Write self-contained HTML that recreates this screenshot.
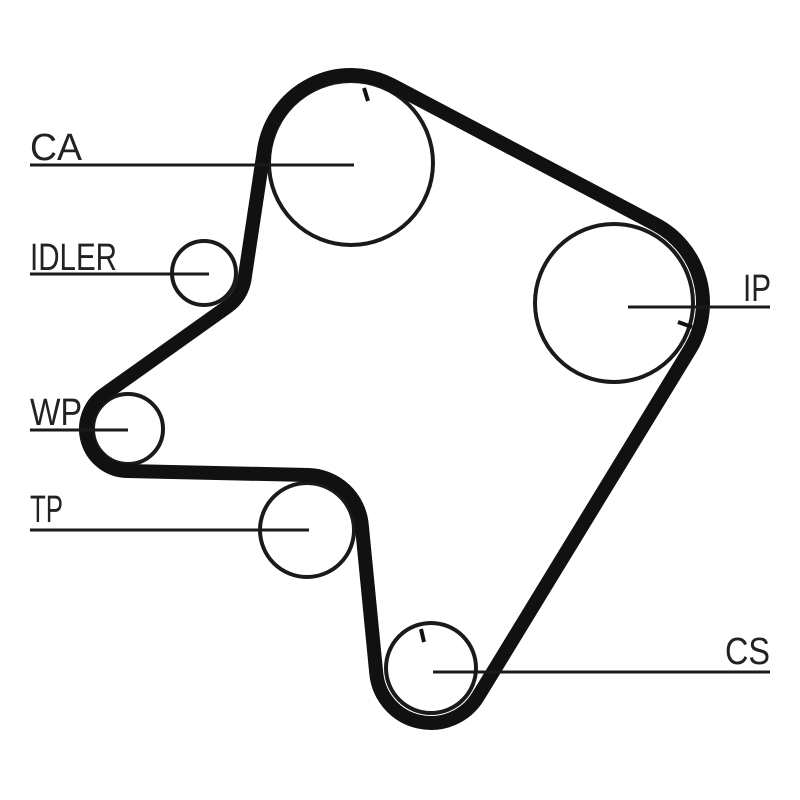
<!DOCTYPE html>
<html><head><meta charset="utf-8"><style>
html,body{margin:0;padding:0;background:#fff;}
svg{display:block}
text{font-family:"Liberation Sans",sans-serif;fill:#222;}
</style></head><body>
<svg id="s" width="800" height="800" viewBox="0 0 800 800">
<g fill="none" stroke="#1a1a1a" stroke-width="4">
<circle cx="351" cy="163" r="82"/>
<circle cx="204" cy="273" r="32"/>
<circle cx="614" cy="303" r="79"/>
<circle cx="128" cy="429" r="35"/>
<circle cx="307" cy="530" r="47"/>
<circle cx="431" cy="668" r="45"/>
</g>
<path id="belt" d="" fill="none" stroke="#111" stroke-width="14" stroke-linejoin="round"/>
<g stroke="#1a1a1a" stroke-width="3">
<line x1="30" y1="165" x2="354" y2="165"/>
<line x1="30" y1="274" x2="209" y2="274"/>
<line x1="628" y1="307" x2="770" y2="307"/>
<line x1="30" y1="430" x2="128" y2="430"/>
<line x1="30" y1="530" x2="309" y2="530"/>
<line x1="433" y1="672" x2="770" y2="672"/>
</g>
<g stroke="#111" stroke-width="4">
<line x1="364" y1="88" x2="368" y2="101"/>
<line x1="678" y1="322" x2="692" y2="327"/>
<line x1="421" y1="629" x2="424" y2="642"/>
</g>
<text x="30" y="160" font-size="38" textLength="52" lengthAdjust="spacingAndGlyphs">CA</text>
<text x="30" y="270" font-size="38" textLength="87" lengthAdjust="spacingAndGlyphs">IDLER</text>
<text x="743" y="301" font-size="38" textLength="28" lengthAdjust="spacingAndGlyphs">IP</text>
<text x="30" y="425" font-size="38" textLength="52" lengthAdjust="spacingAndGlyphs">WP</text>
<text x="30" y="522" font-size="38" textLength="33" lengthAdjust="spacingAndGlyphs">TP</text>
<text x="725" y="664" font-size="38" textLength="45" lengthAdjust="spacingAndGlyphs">CS</text>
</svg>
<script>
(function(){
var P=[
 {x:351,y:163,R:88,s:1},   // CA
 {x:614,y:303,R:89,s:1},   // IP
 {x:431,y:668,R:55,s:1},   // CS
 {x:307,y:530,R:55,s:-1},  // TP
 {x:128,y:429,R:42,s:1},   // WP
 {x:204,y:273,R:41,s:-1}   // IDLER
];
var n=P.length, T=[];
for(var i=0;i<n;i++){
  var A=P[i],B=P[(i+1)%n];
  var Dx=B.x-A.x,Dy=B.y-A.y,L=Math.hypot(Dx,Dy),phi=Math.atan2(Dy,Dx);
  var ra=A.s*A.R, rb=B.s*B.R;
  var th=phi-Math.acos((ra-rb)/L);
  var nx=Math.cos(th),ny=Math.sin(th);
  T.push({a:[A.x+ra*nx,A.y+ra*ny],b:[B.x+rb*nx,B.y+rb*ny]});
}
var d="M"+T[0].a[0].toFixed(2)+","+T[0].a[1].toFixed(2);
for(var i=0;i<n;i++){
  var t=T[i]; d+=" L"+t.b[0].toFixed(2)+","+t.b[1].toFixed(2);
  var C=P[(i+1)%n], nxt=T[(i+1)%n].a;
  var a1=Math.atan2(t.b[1]-C.y,t.b[0]-C.x), a2=Math.atan2(nxt[1]-C.y,nxt[0]-C.x);
  var sweep=C.s>0?1:0, diff;
  if(sweep){diff=a2-a1;while(diff<0)diff+=2*Math.PI;}else{diff=a1-a2;while(diff<0)diff+=2*Math.PI;}
  var large=diff>Math.PI?1:0;
  d+=" A"+C.R+","+C.R+" 0 "+large+" "+sweep+" "+nxt[0].toFixed(2)+","+nxt[1].toFixed(2);
}
d+=" Z";
document.getElementById("belt").setAttribute("d",d);
})();
</script>
</body></html>
